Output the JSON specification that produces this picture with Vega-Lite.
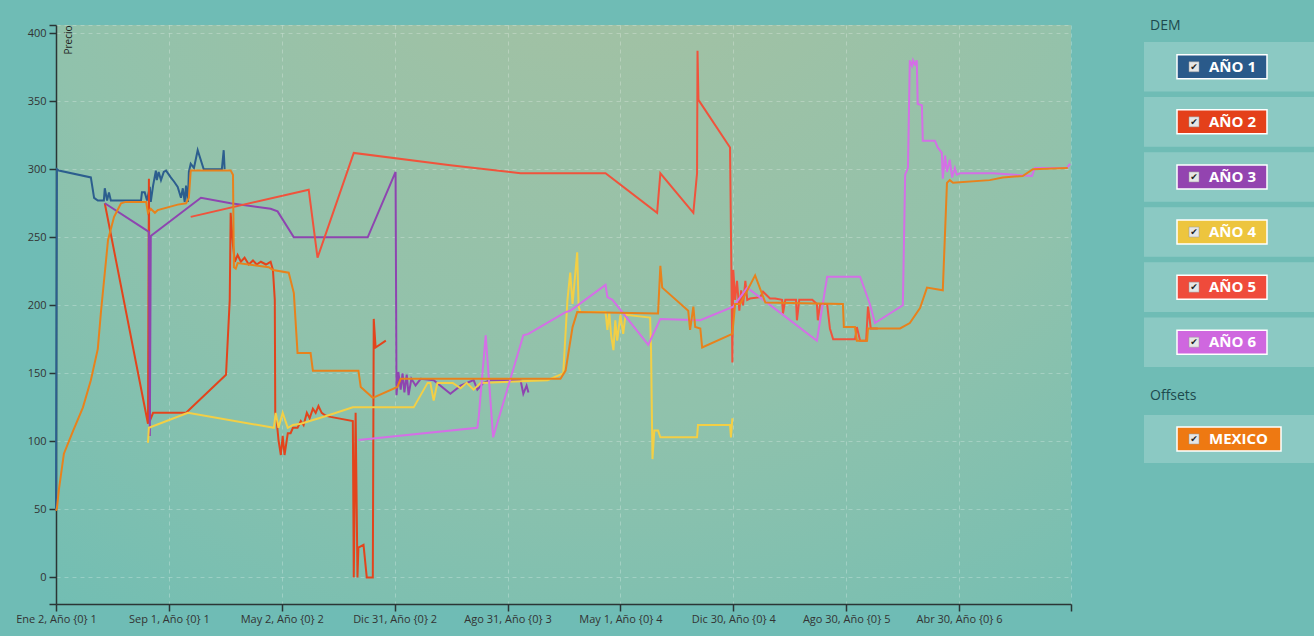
{
  "$schema": "https://vega.github.io/schema/vega-lite/v6.json",
  "background": "#6fbcb5",
  "padding": {"left": 15, "top": 19, "right": 0, "bottom": 12},
  "config": {"font": "Open Sans", "view": {"stroke": null}},
  "datasets": {
    "dem": [{"serie": "AÑO 1"}, {"serie": "AÑO 2"}, {"serie": "AÑO 3"}, {"serie": "AÑO 4"}, {"serie": "AÑO 5"}, {"serie": "AÑO 6"}],
    "offsets": [{"serie": "MEXICO"}],
    "cabecera_dem": [{"h": "DEM"}],
    "cabecera_offsets": [{"h": "Offsets"}],
    "precios": [
      {"serie": "AÑO 1", "dia": 0, "precio": 49}, {"serie": "AÑO 1", "dia": 2, "precio": 300}, {"serie": "AÑO 1", "dia": 6, "precio": 299}, {"serie": "AÑO 1", "dia": 75, "precio": 294}, {"serie": "AÑO 1", "dia": 82, "precio": 279}, {"serie": "AÑO 1", "dia": 90, "precio": 277}, {"serie": "AÑO 1", "dia": 103, "precio": 277}, {"serie": "AÑO 1", "dia": 105, "precio": 286}, {"serie": "AÑO 1", "dia": 110, "precio": 277}, {"serie": "AÑO 1", "dia": 114, "precio": 283}, {"serie": "AÑO 1", "dia": 118, "precio": 277}, {"serie": "AÑO 1", "dia": 183, "precio": 277}, {"serie": "AÑO 1", "dia": 185, "precio": 283}, {"serie": "AÑO 1", "dia": 191, "precio": 283}, {"serie": "AÑO 1", "dia": 196, "precio": 277}, {"serie": "AÑO 1", "dia": 202, "precio": 287}, {"serie": "AÑO 1", "dia": 204, "precio": 276}, {"serie": "AÑO 1", "dia": 209, "precio": 288}, {"serie": "AÑO 1", "dia": 215, "precio": 299}, {"serie": "AÑO 1", "dia": 217, "precio": 292}, {"serie": "AÑO 1", "dia": 221, "precio": 298}, {"serie": "AÑO 1", "dia": 226, "precio": 292}, {"serie": "AÑO 1", "dia": 232, "precio": 298}, {"serie": "AÑO 1", "dia": 237, "precio": 299}, {"serie": "AÑO 1", "dia": 247, "precio": 294}, {"serie": "AÑO 1", "dia": 254, "precio": 291}, {"serie": "AÑO 1", "dia": 262, "precio": 287}, {"serie": "AÑO 1", "dia": 269, "precio": 279}, {"serie": "AÑO 1", "dia": 273, "precio": 286}, {"serie": "AÑO 1", "dia": 277, "precio": 276}, {"serie": "AÑO 1", "dia": 280, "precio": 288}, {"serie": "AÑO 1", "dia": 284, "precio": 276}, {"serie": "AÑO 1", "dia": 286, "precio": 298}, {"serie": "AÑO 1", "dia": 290, "precio": 304}, {"serie": "AÑO 1", "dia": 297, "precio": 301}, {"serie": "AÑO 1", "dia": 305, "precio": 314}, {"serie": "AÑO 1", "dia": 318, "precio": 300}, {"serie": "AÑO 1", "dia": 357, "precio": 300}, {"serie": "AÑO 1", "dia": 361, "precio": 314}, {"serie": "AÑO 1", "dia": 363, "precio": 300},

      {"serie": "AÑO 2", "dia": 105, "precio": 275}, {"serie": "AÑO 2", "dia": 198, "precio": 113}, {"serie": "AÑO 2", "dia": 200, "precio": 293}, {"serie": "AÑO 2", "dia": 202, "precio": 115}, {"serie": "AÑO 2", "dia": 209, "precio": 121}, {"serie": "AÑO 2", "dia": 280, "precio": 121}, {"serie": "AÑO 2", "dia": 366, "precio": 149}, {"serie": "AÑO 2", "dia": 374, "precio": 204}, {"serie": "AÑO 2", "dia": 376, "precio": 268}, {"serie": "AÑO 2", "dia": 381, "precio": 244}, {"serie": "AÑO 2", "dia": 385, "precio": 232}, {"serie": "AÑO 2", "dia": 391, "precio": 237}, {"serie": "AÑO 2", "dia": 398, "precio": 232}, {"serie": "AÑO 2", "dia": 406, "precio": 235}, {"serie": "AÑO 2", "dia": 415, "precio": 230}, {"serie": "AÑO 2", "dia": 424, "precio": 233}, {"serie": "AÑO 2", "dia": 432, "precio": 230}, {"serie": "AÑO 2", "dia": 441, "precio": 232}, {"serie": "AÑO 2", "dia": 452, "precio": 230}, {"serie": "AÑO 2", "dia": 462, "precio": 232}, {"serie": "AÑO 2", "dia": 467, "precio": 226}, {"serie": "AÑO 2", "dia": 471, "precio": 204}, {"serie": "AÑO 2", "dia": 472, "precio": 121}, {"serie": "AÑO 2", "dia": 475, "precio": 115}, {"serie": "AÑO 2", "dia": 479, "precio": 101}, {"serie": "AÑO 2", "dia": 484, "precio": 90}, {"serie": "AÑO 2", "dia": 488, "precio": 104}, {"serie": "AÑO 2", "dia": 492, "precio": 90}, {"serie": "AÑO 2", "dia": 499, "precio": 106}, {"serie": "AÑO 2", "dia": 505, "precio": 106}, {"serie": "AÑO 2", "dia": 510, "precio": 110}, {"serie": "AÑO 2", "dia": 520, "precio": 110}, {"serie": "AÑO 2", "dia": 527, "precio": 115}, {"serie": "AÑO 2", "dia": 533, "precio": 112}, {"serie": "AÑO 2", "dia": 540, "precio": 121}, {"serie": "AÑO 2", "dia": 546, "precio": 117}, {"serie": "AÑO 2", "dia": 553, "precio": 124}, {"serie": "AÑO 2", "dia": 559, "precio": 121}, {"serie": "AÑO 2", "dia": 565, "precio": 126}, {"serie": "AÑO 2", "dia": 572, "precio": 121}, {"serie": "AÑO 2", "dia": 580, "precio": 119}, {"serie": "AÑO 2", "dia": 591, "precio": 118}, {"serie": "AÑO 2", "dia": 639, "precio": 115}, {"serie": "AÑO 2", "dia": 641, "precio": 0}, {"serie": "AÑO 2", "dia": 645, "precio": 121}, {"serie": "AÑO 2", "dia": 649, "precio": 0}, {"serie": "AÑO 2", "dia": 651, "precio": 22}, {"serie": "AÑO 2", "dia": 662, "precio": 24}, {"serie": "AÑO 2", "dia": 669, "precio": 0}, {"serie": "AÑO 2", "dia": 682, "precio": 0}, {"serie": "AÑO 2", "dia": 684, "precio": 190}, {"serie": "AÑO 2", "dia": 688, "precio": 169}, {"serie": "AÑO 2", "dia": 710, "precio": 174},

      {"serie": "AÑO 3", "dia": 105, "precio": 275}, {"serie": "AÑO 3", "dia": 200, "precio": 254}, {"serie": "AÑO 3", "dia": 202, "precio": 104}, {"serie": "AÑO 3", "dia": 204, "precio": 251}, {"serie": "AÑO 3", "dia": 312, "precio": 279}, {"serie": "AÑO 3", "dia": 376, "precio": 275}, {"serie": "AÑO 3", "dia": 462, "precio": 271}, {"serie": "AÑO 3", "dia": 477, "precio": 269}, {"serie": "AÑO 3", "dia": 512, "precio": 250}, {"serie": "AÑO 3", "dia": 671, "precio": 250}, {"serie": "AÑO 3", "dia": 731, "precio": 298}, {"serie": "AÑO 3", "dia": 733, "precio": 134}, {"serie": "AÑO 3", "dia": 737, "precio": 151}, {"serie": "AÑO 3", "dia": 742, "precio": 138}, {"serie": "AÑO 3", "dia": 746, "precio": 150}, {"serie": "AÑO 3", "dia": 750, "precio": 136}, {"serie": "AÑO 3", "dia": 755, "precio": 149}, {"serie": "AÑO 3", "dia": 759, "precio": 134}, {"serie": "AÑO 3", "dia": 765, "precio": 146}, {"serie": "AÑO 3", "dia": 774, "precio": 141}, {"serie": "AÑO 3", "dia": 785, "precio": 146}, {"serie": "AÑO 3", "dia": 813, "precio": 145}, {"serie": "AÑO 3", "dia": 849, "precio": 135}, {"serie": "AÑO 3", "dia": 871, "precio": 141}, {"serie": "AÑO 3", "dia": 899, "precio": 145}, {"serie": "AÑO 3", "dia": 907, "precio": 138}, {"serie": "AÑO 3", "dia": 920, "precio": 143}, {"serie": "AÑO 3", "dia": 935, "precio": 145}, {"serie": "AÑO 3", "dia": 1000, "precio": 145}, {"serie": "AÑO 3", "dia": 1006, "precio": 135}, {"serie": "AÑO 3", "dia": 1013, "precio": 141}, {"serie": "AÑO 3", "dia": 1017, "precio": 136},

      {"serie": "AÑO 4", "dia": 198, "precio": 99}, {"serie": "AÑO 4", "dia": 200, "precio": 110}, {"serie": "AÑO 4", "dia": 284, "precio": 121}, {"serie": "AÑO 4", "dia": 469, "precio": 110}, {"serie": "AÑO 4", "dia": 473, "precio": 121}, {"serie": "AÑO 4", "dia": 479, "precio": 110}, {"serie": "AÑO 4", "dia": 488, "precio": 121}, {"serie": "AÑO 4", "dia": 499, "precio": 110}, {"serie": "AÑO 4", "dia": 510, "precio": 112}, {"serie": "AÑO 4", "dia": 527, "precio": 113}, {"serie": "AÑO 4", "dia": 585, "precio": 119}, {"serie": "AÑO 4", "dia": 639, "precio": 125}, {"serie": "AÑO 4", "dia": 770, "precio": 125}, {"serie": "AÑO 4", "dia": 800, "precio": 143}, {"serie": "AÑO 4", "dia": 806, "precio": 143}, {"serie": "AÑO 4", "dia": 813, "precio": 130}, {"serie": "AÑO 4", "dia": 821, "precio": 143}, {"serie": "AÑO 4", "dia": 854, "precio": 143}, {"serie": "AÑO 4", "dia": 871, "precio": 139}, {"serie": "AÑO 4", "dia": 884, "precio": 143}, {"serie": "AÑO 4", "dia": 899, "precio": 138}, {"serie": "AÑO 4", "dia": 914, "precio": 143}, {"serie": "AÑO 4", "dia": 1058, "precio": 145}, {"serie": "AÑO 4", "dia": 1092, "precio": 150}, {"serie": "AÑO 4", "dia": 1101, "precio": 204}, {"serie": "AÑO 4", "dia": 1107, "precio": 224}, {"serie": "AÑO 4", "dia": 1112, "precio": 201}, {"serie": "AÑO 4", "dia": 1122, "precio": 239}, {"serie": "AÑO 4", "dia": 1125, "precio": 199}, {"serie": "AÑO 4", "dia": 1129, "precio": 195}, {"serie": "AÑO 4", "dia": 1183, "precio": 195}, {"serie": "AÑO 4", "dia": 1187, "precio": 182}, {"serie": "AÑO 4", "dia": 1191, "precio": 195}, {"serie": "AÑO 4", "dia": 1195, "precio": 178}, {"serie": "AÑO 4", "dia": 1200, "precio": 167}, {"serie": "AÑO 4", "dia": 1204, "precio": 189}, {"serie": "AÑO 4", "dia": 1208, "precio": 174}, {"serie": "AÑO 4", "dia": 1215, "precio": 193}, {"serie": "AÑO 4", "dia": 1221, "precio": 179}, {"serie": "AÑO 4", "dia": 1226, "precio": 193}, {"serie": "AÑO 4", "dia": 1279, "precio": 191}, {"serie": "AÑO 4", "dia": 1281, "precio": 167}, {"serie": "AÑO 4", "dia": 1284, "precio": 87}, {"serie": "AÑO 4", "dia": 1288, "precio": 108}, {"serie": "AÑO 4", "dia": 1296, "precio": 108}, {"serie": "AÑO 4", "dia": 1301, "precio": 103}, {"serie": "AÑO 4", "dia": 1380, "precio": 103}, {"serie": "AÑO 4", "dia": 1382, "precio": 112}, {"serie": "AÑO 4", "dia": 1451, "precio": 112}, {"serie": "AÑO 4", "dia": 1453, "precio": 103}, {"serie": "AÑO 4", "dia": 1456, "precio": 117},

      {"serie": "AÑO 5", "dia": 290, "precio": 265}, {"serie": "AÑO 5", "dia": 544, "precio": 285}, {"serie": "AÑO 5", "dia": 563, "precio": 235}, {"serie": "AÑO 5", "dia": 641, "precio": 312}, {"serie": "AÑO 5", "dia": 849, "precio": 303}, {"serie": "AÑO 5", "dia": 1000, "precio": 297}, {"serie": "AÑO 5", "dia": 1183, "precio": 297}, {"serie": "AÑO 5", "dia": 1294, "precio": 268}, {"serie": "AÑO 5", "dia": 1301, "precio": 297}, {"serie": "AÑO 5", "dia": 1372, "precio": 268}, {"serie": "AÑO 5", "dia": 1380, "precio": 297}, {"serie": "AÑO 5", "dia": 1381, "precio": 387}, {"serie": "AÑO 5", "dia": 1383, "precio": 351}, {"serie": "AÑO 5", "dia": 1451, "precio": 316}, {"serie": "AÑO 5", "dia": 1456, "precio": 158}, {"serie": "AÑO 5", "dia": 1458, "precio": 226}, {"serie": "AÑO 5", "dia": 1462, "precio": 204}, {"serie": "AÑO 5", "dia": 1466, "precio": 218}, {"serie": "AÑO 5", "dia": 1471, "precio": 196}, {"serie": "AÑO 5", "dia": 1475, "precio": 211}, {"serie": "AÑO 5", "dia": 1479, "precio": 200}, {"serie": "AÑO 5", "dia": 1484, "precio": 218}, {"serie": "AÑO 5", "dia": 1488, "precio": 204}, {"serie": "AÑO 5", "dia": 1494, "precio": 205}, {"serie": "AÑO 5", "dia": 1516, "precio": 206}, {"serie": "AÑO 5", "dia": 1522, "precio": 210}, {"serie": "AÑO 5", "dia": 1531, "precio": 207}, {"serie": "AÑO 5", "dia": 1537, "precio": 205}, {"serie": "AÑO 5", "dia": 1548, "precio": 205}, {"serie": "AÑO 5", "dia": 1563, "precio": 204}, {"serie": "AÑO 5", "dia": 1565, "precio": 194}, {"serie": "AÑO 5", "dia": 1570, "precio": 204}, {"serie": "AÑO 5", "dia": 1593, "precio": 204}, {"serie": "AÑO 5", "dia": 1595, "precio": 189}, {"serie": "AÑO 5", "dia": 1600, "precio": 204}, {"serie": "AÑO 5", "dia": 1628, "precio": 204}, {"serie": "AÑO 5", "dia": 1638, "precio": 201}, {"serie": "AÑO 5", "dia": 1640, "precio": 189}, {"serie": "AÑO 5", "dia": 1645, "precio": 201}, {"serie": "AÑO 5", "dia": 1660, "precio": 201}, {"serie": "AÑO 5", "dia": 1666, "precio": 183}, {"serie": "AÑO 5", "dia": 1673, "precio": 175}, {"serie": "AÑO 5", "dia": 1720, "precio": 175}, {"serie": "AÑO 5", "dia": 1724, "precio": 184}, {"serie": "AÑO 5", "dia": 1731, "precio": 174}, {"serie": "AÑO 5", "dia": 1744, "precio": 174}, {"serie": "AÑO 5", "dia": 1748, "precio": 199}, {"serie": "AÑO 5", "dia": 1754, "precio": 183}, {"serie": "AÑO 5", "dia": 1769, "precio": 183},

      {"serie": "AÑO 6", "dia": 651, "precio": 101}, {"serie": "AÑO 6", "dia": 907, "precio": 110}, {"serie": "AÑO 6", "dia": 910, "precio": 118}, {"serie": "AÑO 6", "dia": 925, "precio": 178}, {"serie": "AÑO 6", "dia": 941, "precio": 103}, {"serie": "AÑO 6", "dia": 1006, "precio": 178}, {"serie": "AÑO 6", "dia": 1017, "precio": 179}, {"serie": "AÑO 6", "dia": 1097, "precio": 195}, {"serie": "AÑO 6", "dia": 1107, "precio": 196}, {"serie": "AÑO 6", "dia": 1183, "precio": 215}, {"serie": "AÑO 6", "dia": 1187, "precio": 206}, {"serie": "AÑO 6", "dia": 1198, "precio": 204}, {"serie": "AÑO 6", "dia": 1275, "precio": 171}, {"serie": "AÑO 6", "dia": 1301, "precio": 190}, {"serie": "AÑO 6", "dia": 1387, "precio": 189}, {"serie": "AÑO 6", "dia": 1458, "precio": 199}, {"serie": "AÑO 6", "dia": 1488, "precio": 213}, {"serie": "AÑO 6", "dia": 1638, "precio": 174}, {"serie": "AÑO 6", "dia": 1660, "precio": 221}, {"serie": "AÑO 6", "dia": 1731, "precio": 221}, {"serie": "AÑO 6", "dia": 1752, "precio": 201}, {"serie": "AÑO 6", "dia": 1763, "precio": 187}, {"serie": "AÑO 6", "dia": 1823, "precio": 200}, {"serie": "AÑO 6", "dia": 1828, "precio": 296}, {"serie": "AÑO 6", "dia": 1834, "precio": 301}, {"serie": "AÑO 6", "dia": 1838, "precio": 380}, {"serie": "AÑO 6", "dia": 1843, "precio": 376}, {"serie": "AÑO 6", "dia": 1845, "precio": 380}, {"serie": "AÑO 6", "dia": 1849, "precio": 377}, {"serie": "AÑO 6", "dia": 1853, "precio": 380}, {"serie": "AÑO 6", "dia": 1855, "precio": 348}, {"serie": "AÑO 6", "dia": 1864, "precio": 347}, {"serie": "AÑO 6", "dia": 1866, "precio": 321}, {"serie": "AÑO 6", "dia": 1892, "precio": 321}, {"serie": "AÑO 6", "dia": 1898, "precio": 316}, {"serie": "AÑO 6", "dia": 1907, "precio": 312}, {"serie": "AÑO 6", "dia": 1909, "precio": 293}, {"serie": "AÑO 6", "dia": 1914, "precio": 310}, {"serie": "AÑO 6", "dia": 1918, "precio": 298}, {"serie": "AÑO 6", "dia": 1924, "precio": 307}, {"serie": "AÑO 6", "dia": 1929, "precio": 294}, {"serie": "AÑO 6", "dia": 1935, "precio": 301}, {"serie": "AÑO 6", "dia": 1939, "precio": 296}, {"serie": "AÑO 6", "dia": 1946, "precio": 297}, {"serie": "AÑO 6", "dia": 2017, "precio": 297}, {"serie": "AÑO 6", "dia": 2101, "precio": 295}, {"serie": "AÑO 6", "dia": 2107, "precio": 301}, {"serie": "AÑO 6", "dia": 2176, "precio": 301}, {"serie": "AÑO 6", "dia": 2183, "precio": 304},

      {"serie": "MEXICO", "dia": 0, "precio": 49}, {"serie": "MEXICO", "dia": 2, "precio": 51}, {"serie": "MEXICO", "dia": 6, "precio": 64}, {"serie": "MEXICO", "dia": 17, "precio": 91}, {"serie": "MEXICO", "dia": 37, "precio": 108}, {"serie": "MEXICO", "dia": 58, "precio": 125}, {"serie": "MEXICO", "dia": 75, "precio": 145}, {"serie": "MEXICO", "dia": 90, "precio": 168}, {"serie": "MEXICO", "dia": 97, "precio": 196}, {"serie": "MEXICO", "dia": 112, "precio": 248}, {"serie": "MEXICO", "dia": 125, "precio": 265}, {"serie": "MEXICO", "dia": 140, "precio": 275}, {"serie": "MEXICO", "dia": 150, "precio": 276}, {"serie": "MEXICO", "dia": 194, "precio": 276}, {"serie": "MEXICO", "dia": 198, "precio": 268}, {"serie": "MEXICO", "dia": 204, "precio": 271}, {"serie": "MEXICO", "dia": 213, "precio": 268}, {"serie": "MEXICO", "dia": 219, "precio": 270}, {"serie": "MEXICO", "dia": 262, "precio": 274}, {"serie": "MEXICO", "dia": 280, "precio": 275}, {"serie": "MEXICO", "dia": 286, "precio": 279}, {"serie": "MEXICO", "dia": 290, "precio": 299}, {"serie": "MEXICO", "dia": 376, "precio": 299}, {"serie": "MEXICO", "dia": 381, "precio": 296}, {"serie": "MEXICO", "dia": 383, "precio": 228}, {"serie": "MEXICO", "dia": 387, "precio": 227}, {"serie": "MEXICO", "dia": 391, "precio": 231}, {"serie": "MEXICO", "dia": 458, "precio": 228}, {"serie": "MEXICO", "dia": 467, "precio": 226}, {"serie": "MEXICO", "dia": 501, "precio": 224}, {"serie": "MEXICO", "dia": 512, "precio": 209}, {"serie": "MEXICO", "dia": 520, "precio": 165}, {"serie": "MEXICO", "dia": 548, "precio": 165}, {"serie": "MEXICO", "dia": 553, "precio": 152}, {"serie": "MEXICO", "dia": 651, "precio": 152}, {"serie": "MEXICO", "dia": 656, "precio": 140}, {"serie": "MEXICO", "dia": 682, "precio": 132}, {"serie": "MEXICO", "dia": 735, "precio": 140}, {"serie": "MEXICO", "dia": 742, "precio": 146}, {"serie": "MEXICO", "dia": 1086, "precio": 146}, {"serie": "MEXICO", "dia": 1097, "precio": 152}, {"serie": "MEXICO", "dia": 1112, "precio": 184}, {"serie": "MEXICO", "dia": 1122, "precio": 195}, {"serie": "MEXICO", "dia": 1296, "precio": 194}, {"serie": "MEXICO", "dia": 1301, "precio": 229}, {"serie": "MEXICO", "dia": 1305, "precio": 213}, {"serie": "MEXICO", "dia": 1361, "precio": 196}, {"serie": "MEXICO", "dia": 1365, "precio": 182}, {"serie": "MEXICO", "dia": 1372, "precio": 199}, {"serie": "MEXICO", "dia": 1376, "precio": 184}, {"serie": "MEXICO", "dia": 1387, "precio": 183}, {"serie": "MEXICO", "dia": 1391, "precio": 169}, {"serie": "MEXICO", "dia": 1456, "precio": 179}, {"serie": "MEXICO", "dia": 1462, "precio": 201}, {"serie": "MEXICO", "dia": 1473, "precio": 201}, {"serie": "MEXICO", "dia": 1505, "precio": 222}, {"serie": "MEXICO", "dia": 1527, "precio": 202}, {"serie": "MEXICO", "dia": 1694, "precio": 201}, {"serie": "MEXICO", "dia": 1696, "precio": 184}, {"serie": "MEXICO", "dia": 1720, "precio": 184}, {"serie": "MEXICO", "dia": 1724, "precio": 174}, {"serie": "MEXICO", "dia": 1746, "precio": 174}, {"serie": "MEXICO", "dia": 1748, "precio": 183}, {"serie": "MEXICO", "dia": 1817, "precio": 183}, {"serie": "MEXICO", "dia": 1838, "precio": 187}, {"serie": "MEXICO", "dia": 1860, "precio": 198}, {"serie": "MEXICO", "dia": 1875, "precio": 213}, {"serie": "MEXICO", "dia": 1909, "precio": 211}, {"serie": "MEXICO", "dia": 1918, "precio": 290}, {"serie": "MEXICO", "dia": 1924, "precio": 292}, {"serie": "MEXICO", "dia": 1931, "precio": 290}, {"serie": "MEXICO", "dia": 2010, "precio": 292}, {"serie": "MEXICO", "dia": 2038, "precio": 294}, {"serie": "MEXICO", "dia": 2081, "precio": 295}, {"serie": "MEXICO", "dia": 2103, "precio": 300}, {"serie": "MEXICO", "dia": 2178, "precio": 301}
    ]
  },
  "spacing": 69,
  "hconcat": [
    {
      "width": 1015,
      "height": 579,
      "view": {
        "stroke": null,
        "fill": {
          "gradient": "radial", "x1": 0.55, "y1": 0, "r1": 0, "x2": 0.55, "y2": 0, "r2": 1.2,
          "stops": [
            {"offset": 0, "color": "#aac1a0"},
            {"offset": 0.5, "color": "#90c2ac"},
            {"offset": 0.85, "color": "#6dbdb4"},
            {"offset": 1, "color": "#5db8b8"}
          ]
        }
      },
      "data": {"name": "precios"},
      "mark": {"type": "line", "strokeWidth": 2, "interpolate": "linear"},
      "encoding": {
        "x": {
          "field": "dia", "type": "quantitative",
          "scale": {"domain": [0, 2185], "nice": false, "zero": false},
          "axis": {
            "title": null,
            "values": [0, 243, 486, 729, 972, 1215, 1458, 1701, 1944, 2185],
            "labelExpr": "['Ene 2, Año {0} 1','Sep 1, Año {0} 1','May 2, Año {0} 2','Dic 31, Año {0} 2','Ago 31, Año {0} 3','May 1, Año {0} 4','Dic 30, Año {0} 4','Ago 30, Año {0} 5','Abr 30, Año {0} 6',''][round(datum.value / 243)]",
            "labelOverlap": false,
            "labelFlush": false,
            "labelFontSize": 11,
            "labelColor": "#333333",
            "labelPadding": 2,
            "tickSize": 7,
            "tickColor": "#2b3535",
            "tickWidth": 1.5,
            "domainColor": "#2b3535",
            "domainWidth": 1.5,
            "grid": true,
            "gridColor": "#ffffff",
            "gridOpacity": 0.25,
            "gridDash": [4, 4]
          }
        },
        "y": {
          "field": "precio", "type": "quantitative",
          "scale": {"domain": [-19.5, 406], "nice": false, "zero": false},
          "axis": {
            "values": [-19.5, 0, 50, 100, 150, 200, 250, 300, 350, 400, 406],
            "labelExpr": "datum.value < -1 || datum.value > 401 ? '' : datum.label",
            "title": "Precio",
            "titleAngle": 270,
            "titleAlign": "right",
            "titleBaseline": "top",
            "titleX": 7,
            "titleY": 0,
            "titleFontSize": 10,
            "titleFontWeight": "normal",
            "titleColor": "#222222",
            "labelFontSize": 11,
            "labelColor": "#333333",
            "labelPadding": 3,
            "tickSize": 7,
            "tickColor": "#2b3535",
            "tickWidth": 1.5,
            "domainColor": "#2b3535",
            "domainWidth": 1.5,
            "grid": true,
            "gridColor": "#ffffff",
            "gridOpacity": 0.25,
            "gridDash": [4, 4]
          }
        },
        "stroke": {
          "field": "serie", "type": "nominal",
          "scale": {
            "domain": ["AÑO 1", "AÑO 2", "AÑO 3", "AÑO 4", "AÑO 5", "AÑO 6", "MEXICO"],
            "range": ["#2c5e8e", "#e3441c", "#8e45b0", "#f3cf45", "#f0533c", "#d46fe6", "#e8821c"]
          },
          "legend": null
        },
        "order": {"value": null}
      }
    },
    {
      "spacing": 5,
      "vconcat": [
        {
          "width": 170,
          "height": 12,
          "data": {"name": "cabecera_dem"},
          "mark": {"type": "text", "align": "left", "baseline": "alphabetic", "dx": 6, "dy": -1, "fontSize": 14, "color": "#1d4a4e"},
          "encoding": {
            "x": {"datum": -1, "type": "quantitative", "scale": {"domain": [-1, 1]}, "axis": null},
            "text": {"field": "h"}
          }
        },
        {
          "width": 170,
          "height": 325,
          "data": {"name": "dem"},
          "encoding": {
            "y": {"field": "serie", "type": "nominal", "sort": null, "scale": {"paddingInner": 0.1, "paddingOuter": 0}, "axis": null}
          },
          "layer": [
            {"mark": {"type": "rect", "fill": "#ffffff", "fillOpacity": 0.2}},
            {
              "mark": {"type": "rect", "width": 90, "height": 24, "xOffset": -7, "stroke": "#ffffff", "strokeWidth": 1.5},
              "encoding": {
                "x": {"datum": 0, "type": "quantitative", "scale": {"domain": [-1, 1]}, "axis": null},
                "fill": {
                  "field": "serie", "type": "nominal",
                  "scale": {
                    "domain": ["AÑO 1", "AÑO 2", "AÑO 3", "AÑO 4", "AÑO 5", "AÑO 6", "MEXICO"],
                    "range": ["#2a5a8a", "#e4401a", "#9344b0", "#edc53e", "#ef4b3b", "#cf67df", "#ee7912"]
                  },
                  "legend": null
                }
              }
            },
            {
              "mark": {"type": "rect", "width": 10, "height": 10, "xOffset": -35, "fill": "#e6e6e6", "stroke": "#9a9a9a", "strokeWidth": 0.5},
              "encoding": {"x": {"datum": 0, "type": "quantitative", "scale": {"domain": [-1, 1]}, "axis": null}}
            },
            {
              "mark": {"type": "text", "text": "✔", "font": "DejaVu Sans", "fontSize": 9, "color": "#222222", "dx": -35, "align": "center", "baseline": "middle"},
              "encoding": {"x": {"datum": 0, "type": "quantitative", "scale": {"domain": [-1, 1]}, "axis": null}}
            },
            {
              "mark": {"type": "text", "fontSize": 15, "fontWeight": "bold", "color": "#ffffff", "dx": -20, "align": "left", "baseline": "middle"},
              "encoding": {
                "x": {"datum": 0, "type": "quantitative", "scale": {"domain": [-1, 1]}, "axis": null},
                "text": {"field": "serie"}
              }
            }
          ]
        },
        {
          "width": 170,
          "height": 38,
          "data": {"name": "cabecera_offsets"},
          "mark": {"type": "text", "align": "left", "baseline": "alphabetic", "dx": 6, "dy": 9, "fontSize": 14, "color": "#1d4a4e"},
          "encoding": {
            "x": {"datum": -1, "type": "quantitative", "scale": {"domain": [-1, 1]}, "axis": null},
            "text": {"field": "h"}
          }
        },
        {
          "width": 170,
          "height": 48,
          "data": {"name": "offsets"},
          "encoding": {
            "y": {"field": "serie", "type": "nominal", "sort": null, "scale": {"paddingInner": 0.1, "paddingOuter": 0}, "axis": null}
          },
          "layer": [
            {"mark": {"type": "rect", "fill": "#ffffff", "fillOpacity": 0.2}},
            {
              "mark": {"type": "rect", "width": 104, "height": 24, "xOffset": 0, "stroke": "#ffffff", "strokeWidth": 1.5},
              "encoding": {
                "x": {"datum": 0, "type": "quantitative", "scale": {"domain": [-1, 1]}, "axis": null},
                "fill": {
                  "field": "serie", "type": "nominal",
                  "scale": {
                    "domain": ["AÑO 1", "AÑO 2", "AÑO 3", "AÑO 4", "AÑO 5", "AÑO 6", "MEXICO"],
                    "range": ["#2a5a8a", "#e4401a", "#9344b0", "#edc53e", "#ef4b3b", "#cf67df", "#ee7912"]
                  },
                  "legend": null
                }
              }
            },
            {
              "mark": {"type": "rect", "width": 10, "height": 10, "xOffset": -35, "fill": "#e6e6e6", "stroke": "#9a9a9a", "strokeWidth": 0.5},
              "encoding": {"x": {"datum": 0, "type": "quantitative", "scale": {"domain": [-1, 1]}, "axis": null}}
            },
            {
              "mark": {"type": "text", "text": "✔", "font": "DejaVu Sans", "fontSize": 9, "color": "#222222", "dx": -35, "align": "center", "baseline": "middle"},
              "encoding": {"x": {"datum": 0, "type": "quantitative", "scale": {"domain": [-1, 1]}, "axis": null}}
            },
            {
              "mark": {"type": "text", "fontSize": 15, "fontWeight": "bold", "color": "#ffffff", "dx": -20, "align": "left", "baseline": "middle"},
              "encoding": {
                "x": {"datum": 0, "type": "quantitative", "scale": {"domain": [-1, 1]}, "axis": null},
                "text": {"field": "serie"}
              }
            }
          ]
        }
      ]
    }
  ]
}
